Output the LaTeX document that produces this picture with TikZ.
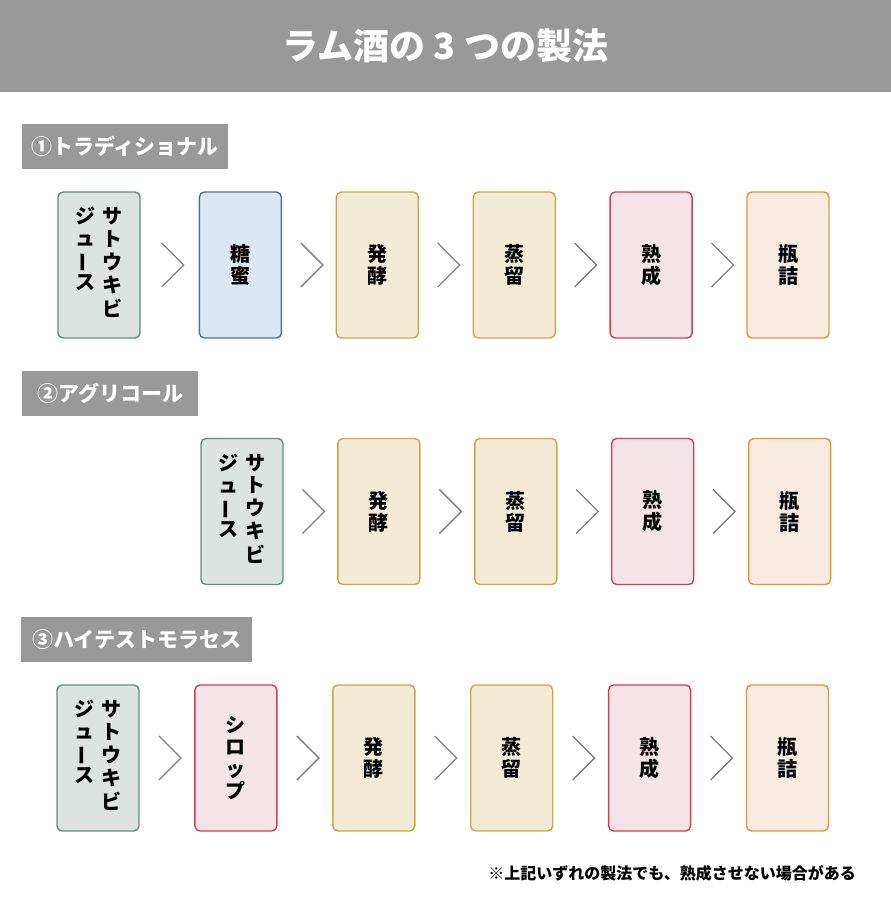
\documentclass[tikz,border=0pt]{standalone}
\usepackage{fontspec}
\setmainfont{Noto Sans CJK JP}
\usetikzlibrary{positioning,calc}

\definecolor{headgray}{HTML}{999999}
\definecolor{juiceline}{HTML}{5E8F80}
\definecolor{juicefill}{HTML}{DDE3E1}
\definecolor{molline}{HTML}{4F7099}
\definecolor{molfill}{HTML}{DAE8F3}
\definecolor{procline}{HTML}{C9AA3C}
\definecolor{procfill}{HTML}{F3EBD5}
\definecolor{ageline}{HTML}{DA3A52}
\definecolor{agefill}{HTML}{F5E5E9}
\definecolor{bottleline}{HTML}{EB922E}
\definecolor{bottlefill}{HTML}{F8EBDF}
\definecolor{chevgray}{HTML}{808080}

\newcommand{\juicetext}{\begin{tabular}[t]{@{}c@{}}ジ\\ュ\\\rotatebox[origin=c]{90}{ー}\\ス\end{tabular}\hspace{7pt}\begin{tabular}[t]{@{}c@{}}サ\\ト\\ウ\\キ\\ビ\end{tabular}}
\newcommand{\chev}[2]{\draw[chevron] ($(#1.east)!0.5!(#2.west)$) ++(-8,-22) -- ++(22,22) -- ++(-22,22);}

\tikzset{
  procbox/.style={draw, rounded corners=5pt, line width=1.4pt, minimum width=82pt, minimum height=146pt,
    align=center, inner sep=0pt, font=\fontsize{20}{22}\selectfont\bfseries},
  juicebox/.style={procbox, draw=juiceline, fill=juicefill},
  molbox/.style={procbox, draw=molline, fill=molfill},
  fermbox/.style={procbox, draw=procline, fill=procfill},
  agebox/.style={procbox, draw=ageline, fill=agefill},
  bottlebox/.style={procbox, draw=bottleline, fill=bottlefill},
  sechead/.style={fill=headgray, text=white, anchor=west, minimum height=45pt, inner sep=0pt,
    font=\fontsize{21}{24}\selectfont\bfseries},
  chevron/.style={draw=chevgray, line width=1.3pt},
}

\begin{document}
\begin{tikzpicture}[x=1pt, y=-1pt, node distance=54.5pt]
\useasboundingbox (0,0) rectangle (891,908);
\node (title) [fill=headgray, text=white, minimum width=891pt, minimum height=92pt, inner sep=0pt,
  font=\fontsize{36}{40}\selectfont\bfseries] at (445.5,46) {ラム酒の 3 つの製法};

% traditional
\begin{scope}[node distance=53.5pt]
\node (h1) [sechead, minimum width=206pt] at (22,146) {①トラディショナル};
\node (a1) [juicebox] at (99,265) {\juicetext};
\node (a2) [molbox, right=58pt of a1] {糖\\蜜};
\node (a3) [fermbox, right=of a2] {発\\酵};
\node (a4) [fermbox, right=of a3] {蒸\\留};
\node (a5) [agebox, right=of a4] {熟\\成};
\node (a6) [bottlebox, right=of a5] {瓶\\詰};
\chev{a1}{a2} \chev{a2}{a3} \chev{a3}{a4} \chev{a4}{a5} \chev{a5}{a6}
\end{scope}

% agricole
\begin{scope}[node distance=53.5pt]
\node (h2) [sechead, minimum width=176pt] at (22,393) {②アグリコール};
\node (b1) [juicebox] at (242,511.5) {\juicetext};
\node (b2) [fermbox, right=of b1] {発\\酵};
\node (b3) [fermbox, right=of b2] {蒸\\留};
\node (b4) [agebox, right=of b3] {熟\\成};
\node (b5) [bottlebox, right=of b4] {瓶\\詰};
\chev{b1}{b2} \chev{b2}{b3} \chev{b3}{b4} \chev{b4}{b5}
\end{scope}

% high test molasses
\node (h3) [sechead, minimum width=231pt] at (21,639.5) {③ハイテストモラセス};
\node (c1) [juicebox] at (98,758) {\juicetext};
\node (c2) [agebox, right=of c1] {シ\\ロ\\ッ\\プ};
\node (c3) [fermbox, right=of c2] {発\\酵};
\node (c4) [fermbox, right=of c3] {蒸\\留};
\node (c5) [agebox, right=of c4] {熟\\成};
\node (c6) [bottlebox, right=of c5] {瓶\\詰};
\chev{c1}{c2} \chev{c2}{c3} \chev{c3}{c4} \chev{c4}{c5} \chev{c5}{c6}

\node (note) [anchor=east, inner sep=0pt, font=\fontsize{16}{18}\selectfont\bfseries] at (856,873)
  {※上記いずれの製法でも、熟成させない場合がある};
\end{tikzpicture}
\end{document}
